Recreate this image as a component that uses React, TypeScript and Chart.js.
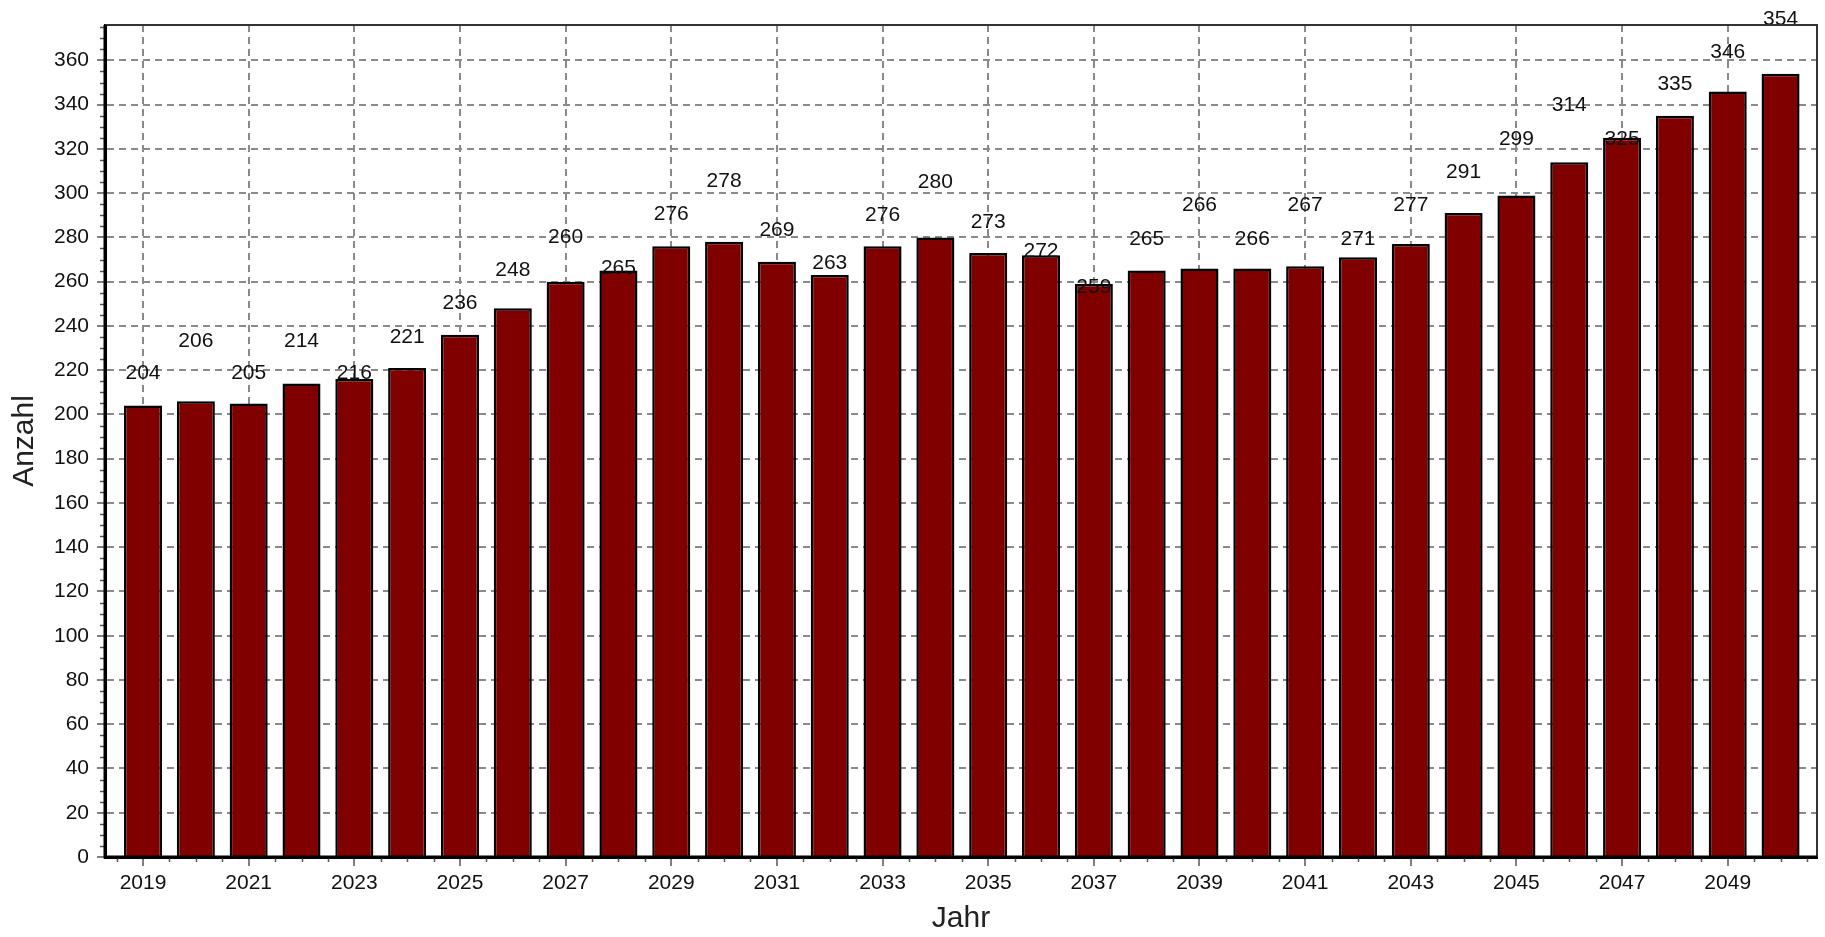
import React, { useEffect, useRef } from "react";
import { Chart, registerables } from "chart.js";

Chart.register(...registerables);

const years = [
  2019, 2020, 2021, 2022, 2023, 2024, 2025, 2026, 2027, 2028, 2029, 2030, 2031, 2032, 2033, 2034,
  2035, 2036, 2037, 2038, 2039, 2040, 2041, 2042, 2043, 2044, 2045, 2046, 2047, 2048, 2049, 2050,
];
const values = [
  204, 206, 205, 214, 216, 221, 236, 248, 260, 265, 276, 278, 269, 263, 276, 280,
  273, 272, 259, 265, 266, 266, 267, 271, 277, 291, 299, 314, 325, 335, 346, 354,
];
// value-axis level at which each bar's label sits (staggered as in the picture)
const labelAnchors = [
  218.6, 233.2, 218.5, 233.2, 218.6, 235.0, 250.1, 265.1, 279.9, 265.9, 290.7, 305.5, 283.2, 268.2, 290.0, 305.0,
  287.1, 273.7, 257.6, 279.4, 294.5, 279.4, 294.5, 279.4, 294.5, 309.5, 324.6, 339.7, 324.6, 349.1, 363.7, 378.8,
];
const xTickYears = [2019, 2021, 2023, 2025, 2027, 2029, 2031, 2033, 2035, 2037, 2039, 2041, 2043, 2045, 2047, 2049];
const xMinorTicks = [
  2018.5, 2019.5, 2020, 2020.5, 2021.5, 2022, 2022.5, 2023.5, 2024, 2024.5, 2025.5, 2026, 2026.5, 2027.5, 2028,
  2028.5, 2029.5, 2030, 2030.5, 2031.5, 2032, 2032.5, 2033.5, 2034, 2034.5, 2035.5, 2036, 2036.5, 2037.5, 2038,
  2038.5, 2039.5, 2040, 2040.5, 2041.5, 2042, 2042.5, 2043.5, 2044, 2044.5, 2045.5, 2046, 2046.5, 2047.5, 2048,
  2048.5, 2049.5, 2050, 2050.5,
];
const yMinorTicks = [
  5, 10, 15, 25, 30, 35, 45, 50, 55, 65, 70, 75, 85, 90, 95, 105, 110, 115, 125, 130, 135, 145, 150, 155,
  165, 170, 175, 185, 190, 195, 205, 210, 215, 225, 230, 235, 245, 250, 255, 265, 270, 275, 285, 290, 295,
  305, 310, 315, 325, 330, 335, 345, 350, 355, 365, 370, 375,
];

const FONT = "'Liberation Sans', Arial, sans-serif";

const framePlugin = {
  id: "frameAndLabels",
  afterDatasetsDraw(chart: any) {
    const { ctx, chartArea, scales } = chart;
    const xs = scales.x;
    const ys = scales.y;
    ctx.save();
    // data labels
    ctx.font = `21px ${FONT}`;
    ctx.fillStyle = "#111";
    ctx.textAlign = "center";
    ctx.textBaseline = "middle";
    for (let i = 0; i < years.length; i++) {
      const x = xs.getPixelForValue(years[i]);
      const y = ys.getPixelForValue(labelAnchors[i]);
      ctx.fillText(String(values[i]), x, y);
    }
    // minor ticks
    ctx.strokeStyle = "#555";
    ctx.lineWidth = 1.5;
    ctx.beginPath();
    for (const v of yMinorTicks) {
      const y = Math.round(ys.getPixelForValue(v)) + 0.5;
      ctx.moveTo(chartArea.left - 5, y);
      ctx.lineTo(chartArea.left, y);
    }
    for (const v of xMinorTicks) {
      const x = Math.round(xs.getPixelForValue(v)) + 0.5;
      ctx.moveTo(x, chartArea.bottom);
      ctx.lineTo(x, chartArea.bottom + 5);
    }
    ctx.stroke();
    // frame: top & right thin
    ctx.strokeStyle = "#333";
    ctx.lineWidth = 2;
    ctx.beginPath();
    ctx.moveTo(chartArea.left, chartArea.top);
    ctx.lineTo(chartArea.right, chartArea.top);
    ctx.lineTo(chartArea.right, chartArea.bottom);
    ctx.stroke();
    // left & bottom thick
    ctx.strokeStyle = "#000";
    ctx.lineWidth = 3;
    ctx.beginPath();
    ctx.moveTo(chartArea.left, chartArea.top);
    ctx.lineTo(chartArea.left, chartArea.bottom);
    ctx.lineTo(chartArea.right, chartArea.bottom);
    ctx.stroke();
    ctx.restore();
  },
};

export default function App() {
  const canvasRef = useRef<HTMLCanvasElement | null>(null);

  useEffect(() => {
    if (!canvasRef.current) return;
    const chart = new Chart(canvasRef.current, {
      type: "bar",
      data: {
        datasets: [
          {
            label: "Anzahl",
            data: years.map((y, i) => ({ x: y, y: values[i] })),
            backgroundColor: "#800000",
            borderColor: "#000",
            borderWidth: 2.5,
            barPercentage: 0.72,
            categoryPercentage: 1,
          },
        ],
      },
      options: {
        animation: false,
        responsive: true,
        maintainAspectRatio: false,
        layout: { padding: { left: 0, top: 25, right: 8, bottom: 0 } },
        plugins: {
          legend: { display: false },
          tooltip: { enabled: false },
        },
        scales: {
          x: {
            type: "linear",
            min: 2018.28,
            max: 2050.69,
            offset: false,
            afterBuildTicks: (s: any) => {
              s.ticks = xTickYears.map((v) => ({ value: v }));
            },
            afterFit: (s: any) => {
              s.height = 80;
            },
            ticks: {
              callback: (v: any) => String(v),
              autoSkip: false,
              maxRotation: 0,
              minRotation: 0,
              padding: 5,
              color: "#111",
              font: { family: FONT, size: 21 },
            },
            grid: {
              offset: false,
              color: "#8a8a8a",
              lineWidth: 2,
              tickLength: 9,
              tickColor: "#555",
              tickWidth: 1.5,
              tickBorderDash: [],
            },
            border: { display: true, color: "#000", width: 3, dash: [7, 5] },
            title: {
              display: true,
              text: "Jahr",
              color: "#222",
              font: { family: FONT, size: 30 },
              padding: { top: 0, bottom: 0 },
            },
          },
          y: {
            type: "linear",
            min: 0,
            max: 376,
            afterFit: (s: any) => {
              s.width = 105;
            },
            ticks: {
              stepSize: 20,
              includeBounds: false,
              padding: 8,
              color: "#111",
              font: { family: FONT, size: 21 },
            },
            grid: {
              color: "#8a8a8a",
              lineWidth: 2,
              tickLength: 8,
              tickColor: "#555",
              tickWidth: 1.5,
              tickBorderDash: [],
            },
            border: { display: true, color: "#000", width: 3, dash: [7, 5] },
            title: {
              display: true,
              text: "Anzahl",
              color: "#222",
              font: { family: FONT, size: 30 },
              padding: { top: 7, bottom: 0 },
            },
          },
        },
      },
      plugins: [framePlugin],
    } as any);
    return () => chart.destroy();
  }, []);

  return (
    <div style={{ position: "fixed", left: 0, top: 0, width: "1825px", height: "937px", background: "#fff" }}>
      <canvas ref={canvasRef} />
    </div>
  );
}
